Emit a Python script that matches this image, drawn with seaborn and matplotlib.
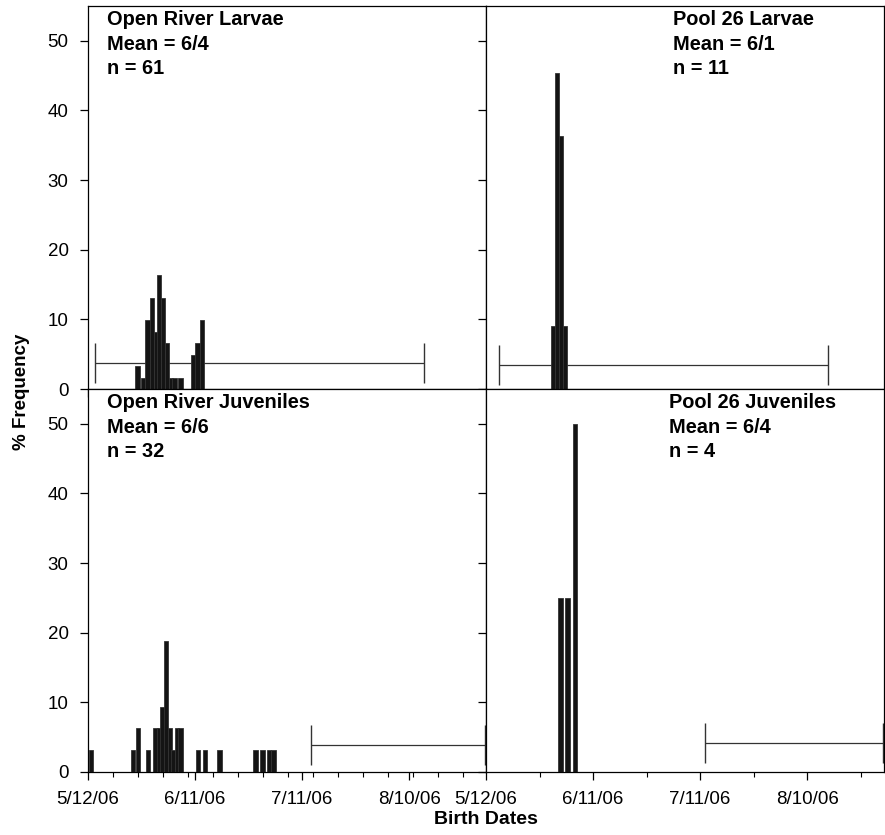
import seaborn as sns
import matplotlib.pyplot as plt

# bar centres in days after 5/12/06, heights in % frequency
or_larvae_day = [13.85, 15.4, 16.7, 17.9, 18.95, 19.95, 20.95, 22.05, 23.2, 24.2, 25.95, 29.55, 30.7, 31.9]
or_larvae_pct = [3.28, 1.64, 9.84, 13.11, 8.20, 16.39, 13.11, 6.56, 1.64, 1.64, 1.64, 4.92, 6.56, 9.84]

p26_larvae_day = [18.75, 19.95, 21.1, 22.1]
p26_larvae_pct = [9.09, 45.45, 36.36, 9.09]

or_juv_day = [0.8, 12.7, 14.0, 16.85, 18.9, 19.85, 20.85, 21.95, 22.95, 23.85,
              24.85, 25.9, 30.9, 32.85, 36.85, 46.95, 48.85, 50.8, 52.0]
or_juv_pct = [3.125, 3.125, 6.25, 3.125, 6.25, 6.25, 9.375, 18.75, 6.25, 3.125,
              6.25, 6.25, 3.125, 3.125, 3.125, 3.125, 3.125, 3.125, 3.125]

p26_juv_day = [20.9, 22.8, 24.85]
p26_juv_pct = [25, 25, 50]

# sampling range bars: (start day, end day, height)
ranges = [(2.1, 94.1, 3.8), (3.7, 95.7, 3.5), (62.6, 111.2, 3.9), (61.4, 111.2, 4.1)]

titles = ["Open River Larvae", "Pool 26 Larvae", "Open River Juveniles", "Pool 26 Juveniles"]
means = ["6/4", "6/1", "6/6", "6/4"]
ns = [61, 11, 32, 4]

tick_days = [0, 30, 60, 90]
tick_labels = ["5/12/06", "6/11/06", "7/11/06", "8/10/06"]

sns.set_style("ticks")
plt.rcParams["font.family"] = ["Liberation Sans", "DejaVu Sans"]
plt.rcParams["axes.linewidth"] = 0.9
plt.rcParams["text.color"] = "black"
plt.rcParams["xtick.color"] = "black"
plt.rcParams["ytick.color"] = "black"

fig, axes = plt.subplots(2, 2, figsize=(8.85, 8.35), dpi=100,
                         gridspec_kw=dict(hspace=0, wspace=0))
fig.subplots_adjust(left=88 / 885, right=884 / 885, bottom=1 - 772 / 835, top=1 - 6 / 835)

data = [(or_larvae_day, or_larvae_pct), (p26_larvae_day, p26_larvae_pct),
        (or_juv_day, or_juv_pct), (p26_juv_day, p26_juv_pct)]

for i, ax in enumerate(axes.flat):
    days, pct = data[i]
    ax.bar(days, pct, width=1.2, color="#141414", edgecolor="#333333", linewidth=0.6, zorder=3)

    x0, x1, yv = ranges[i]
    ax.errorbar((x0 + x1) / 2, yv, xerr=(x1 - x0) / 2, color="#333333", elinewidth=0.9,
                capsize=14.4, capthick=1.0, fmt="none", zorder=2)

    ax.set_xlim(0, 111.5)
    ax.set_ylim(0, 55)
    ax.set_yticks([0, 10, 20, 30, 40, 50])
    ax.set_xticks(tick_days)
    ax.set_xticklabels(tick_labels)
    if i % 2 == 0:
        ax.set_xticks(range(7, 111, 7), minor=True)
    else:
        ax.set_xticks([15, 45, 75, 105], minor=True)
    for s in ax.spines.values():
        s.set_visible(True)
        s.set_color("black")
    ax.tick_params(axis="both", which="major", length=6, width=0.9, labelsize=13.5, pad=8)
    ax.tick_params(axis="x", which="minor", length=3.5, width=0.8)
    if i < 2:
        ax.tick_params(axis="x", labelbottom=False)
    if i % 2 == 1:
        ax.tick_params(axis="y", labelleft=False)

    tx = 107 if i % 2 == 0 else (673 if i == 1 else 669)
    ax.text((tx - (88 if i % 2 == 0 else 486)) / 398, 0.99,
            f"{titles[i]}\nMean = {means[i]}\nn = {ns[i]}",
            transform=ax.transAxes, ha="left", va="top", fontsize=14.4,
            fontweight="bold", linespacing=1.38)

fig.text(22 / 885, 1 - 392 / 835, "% Frequency", rotation=90, ha="center", va="center",
         fontsize=13.5, fontweight="bold")
fig.text(486 / 885, 1 - 819 / 835, "Birth Dates", ha="center", va="center",
         fontsize=14, fontweight="bold")

fig.savefig("out.png", dpi=100)
